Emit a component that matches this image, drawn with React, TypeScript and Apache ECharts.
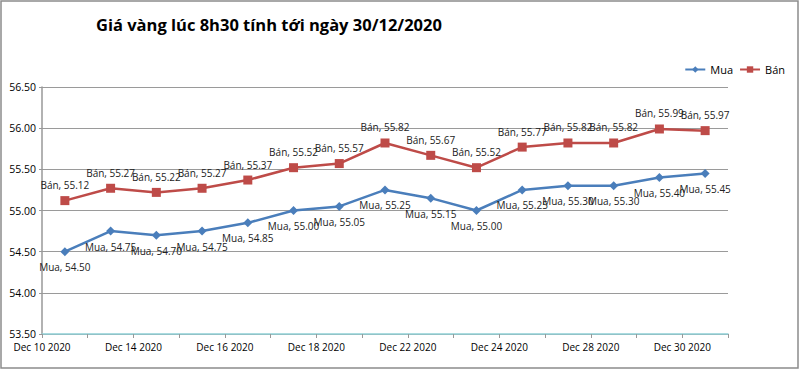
import React, { useEffect, useRef } from "react";
import * as echarts from "echarts";

const title = "Giá vàng lúc 8h30 tính tới ngày 30/12/2020";
const tickLabels = ["Dec 10 2020", "Dec 14 2020", "Dec 16 2020", "Dec 18 2020", "Dec 22 2020", "Dec 24 2020", "Dec 28 2020", "Dec 30 2020"];
const muaValues = [54.5, 54.75, 54.7, 54.75, 54.85, 55.0, 55.05, 55.25, 55.15, 55.0, 55.25, 55.3, 55.3, 55.4, 55.45];
const banValues = [55.12, 55.27, 55.22, 55.27, 55.37, 55.52, 55.57, 55.82, 55.67, 55.52, 55.77, 55.82, 55.82, 55.99, 55.97];

const FONT = "'Open Sans', sans-serif";

export default function App() {
  const ref = useRef<HTMLDivElement>(null);
  useEffect(() => {
    if (!ref.current) return;
    const chart = echarts.init(ref.current, undefined, { renderer: "svg" });
    const toPts = (arr: number[]) => arr.map((v, i) => [i + 0.5, v]);
    const labelFmt = (p: any) => `${p.seriesName}, ${Number(p.value[1]).toFixed(2)}`;
    chart.setOption({
      animation: false,
      backgroundColor: "#ffffff",
      title: {
        text: title,
        left: 91,
        top: 11,
        textStyle: { fontFamily: FONT, fontSize: 16.5, fontWeight: "bold", color: "#000000" },
      },
      legend: {
        right: 10,
        top: 59,
        itemWidth: 20,
        itemHeight: 8,
        itemGap: 6,
        textStyle: { fontFamily: FONT, fontSize: 11, color: "#000000" },
        data: ["Mua", "Bán"],
      },
      graphic: [
        {
          type: "rect",
          shape: { x: 1, y: 1, width: 797, height: 367 },
          style: { fill: "none", stroke: "#8c8c8c", lineWidth: 1.5 },
          silent: true,
        },
      ],
      grid: { left: 42, right: 72, top: 87, bottom: 36 },
      xAxis: {
        type: "value",
        min: 0,
        max: 15,
        interval: 1,
        axisLine: { show: true, onZero: false, lineStyle: { color: "#8fd0d6", width: 1.5 } },
        axisTick: { show: true, length: 4, lineStyle: { color: "#999999" } },
        splitLine: { show: false },
        axisLabel: {
          margin: 8,
          fontFamily: FONT,
          fontSize: 10,
          color: "#000000",
          showMinLabel: true,
          showMaxLabel: true,
          formatter: (v: number) => {
            const r = Math.round(v);
            if (r % 2 !== 0) return "";
            const idx = r / 2;
            return idx < tickLabels.length ? tickLabels[idx] : "";
          },
        },
      },
      yAxis: {
        type: "value",
        min: 53.5,
        max: 56.5,
        interval: 0.5,
        axisLine: { show: true, lineStyle: { color: "#999999", width: 1.5 } },
        axisTick: { show: true, length: 3, lineStyle: { color: "#999999" } },
        splitLine: { show: true, lineStyle: { color: "#9a9a9a", width: 1 } },
        axisLabel: {
          margin: 6,
          fontFamily: FONT,
          fontSize: 10.5,
          color: "#000000",
          formatter: (v: number) => v.toFixed(2),
        },
      },
      series: [
        {
          name: "Mua",
          type: "line",
          data: toPts(muaValues),
          symbol: "diamond",
          symbolSize: 9,
          itemStyle: { color: "#4a7ebb" },
          lineStyle: { color: "#4a7ebb", width: 2.5 },
          label: {
            show: true,
            position: "bottom",
            distance: 6,
            formatter: labelFmt,
            fontFamily: FONT,
            fontSize: 10,
            color: "#222222",
          },
        },
        {
          name: "Bán",
          type: "line",
          data: toPts(banValues),
          symbol: "rect",
          symbolSize: 9,
          itemStyle: { color: "#be4b48" },
          lineStyle: { color: "#be4b48", width: 2.5 },
          label: {
            show: true,
            position: "top",
            distance: 6,
            formatter: labelFmt,
            fontFamily: FONT,
            fontSize: 10,
            color: "#222222",
          },
        },
      ],
    });
    return () => chart.dispose();
  }, []);
  return (
    <div
      ref={ref}
      style={{ position: "fixed", left: 0, top: 0, width: 800, height: 370, background: "#fff" }}
    />
  );
}
